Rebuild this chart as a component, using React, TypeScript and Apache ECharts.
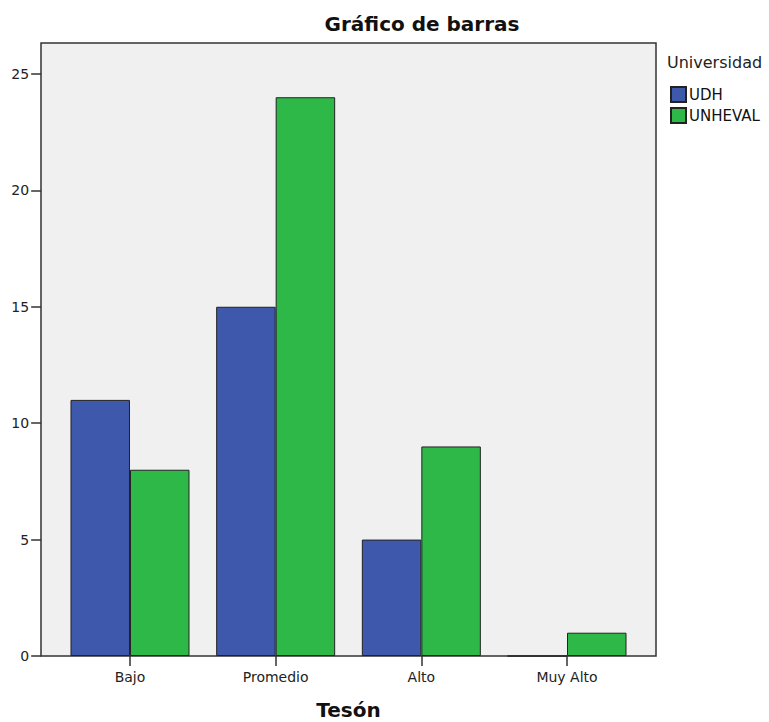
import React, { useEffect, useRef } from "react";
import * as echarts from "echarts";

const categories = ["Bajo", "Promedio", "Alto", "Muy Alto"];
const udhValues = [11, 15, 5, 0];
const unhevalValues = [8, 24, 9, 1];
const yTickValues = [0, 5, 10, 15, 20, 25];
const seriesNames = ["UDH", "UNHEVAL"];

export default function App() {
  const ref = useRef<HTMLDivElement>(null);
  useEffect(() => {
    if (!ref.current) return;
    const chart = echarts.init(ref.current, null, { renderer: "svg" });
    const font = "DejaVu Sans";
    chart.setOption({
      animation: false,
      backgroundColor: "#ffffff",
      textStyle: { fontFamily: font },
      title: [
        {
          text: "Gráfico de barras",
          left: 422,
          top: 14,
          padding: 0,
          textAlign: "center",
          textStyle: { fontFamily: font, fontSize: 20, fontWeight: "bold", color: "#111" },
        },
        {
          text: "Universidad",
          left: 667,
          top: 54,
          padding: 0,
          textStyle: { fontFamily: font, fontSize: 16, fontWeight: "normal", color: "#222" },
        },
      ],
      legend: {
        orient: "vertical",
        left: 670,
        top: 86,
        padding: 0,
        itemWidth: 15,
        itemHeight: 15,
        itemGap: 4,
        icon: "rect",
        data: seriesNames,
        textStyle: { fontFamily: font, fontSize: 15, color: "#111", padding: [0, 0, 0, -2] },
      },
      graphic: [
        {
          type: "rect",
          z: -10,
          silent: true,
          shape: { x: 41, y: 43, width: 615, height: 613 },
          style: { fill: "#f0f0f0", stroke: "#333", lineWidth: 1.5 },
        },
      ],
      grid: { left: 57.15, right: 129.15, top: 43, bottom: 66, outerBoundsMode: "none", containLabel: false },
      xAxis: {
        type: "category",
        data: categories,
        boundaryGap: true,
        axisLine: { show: false },
        axisTick: { show: true, alignWithLabel: true, length: 10, lineStyle: { color: "#333", width: 1.5 } },
        axisLabel: { fontFamily: font, fontSize: 14, color: "#222", margin: 14, interval: 0 },
        name: "Tesón",
        nameLocation: "middle",
        nameGap: 44,
        nameTextStyle: { fontFamily: font, fontSize: 20, fontWeight: "bold", color: "#111" },
      },
      yAxis: {
        type: "value",
        min: 0,
        max: 26.33,
        interval: 5,
        offset: 16,
        splitLine: { show: false },
        axisLine: { show: false },
        axisTick: { show: true, length: 10, customValues: yTickValues, lineStyle: { color: "#333", width: 1.5 } },
        axisLabel: { fontFamily: font, fontSize: 14, color: "#222", margin: 12, customValues: yTickValues },
      },
      series: [
        {
          name: seriesNames[0],
          type: "bar",
          data: udhValues,
          barWidth: 59.5,
          barGap: "0%",
          itemStyle: { color: "#3e58ac", borderColor: "#222", borderWidth: 1 },
        },
        {
          name: seriesNames[1],
          type: "bar",
          data: unhevalValues,
          barWidth: 59.5,
          barGap: "0%",
          itemStyle: { color: "#2eb848", borderColor: "#222", borderWidth: 1 },
        },
      ],
    });
    return () => chart.dispose();
  }, []);
  return (
    <div
      ref={ref}
      style={{ position: "absolute", left: 0, top: 0, width: 769, height: 722 }}
    />
  );
}
